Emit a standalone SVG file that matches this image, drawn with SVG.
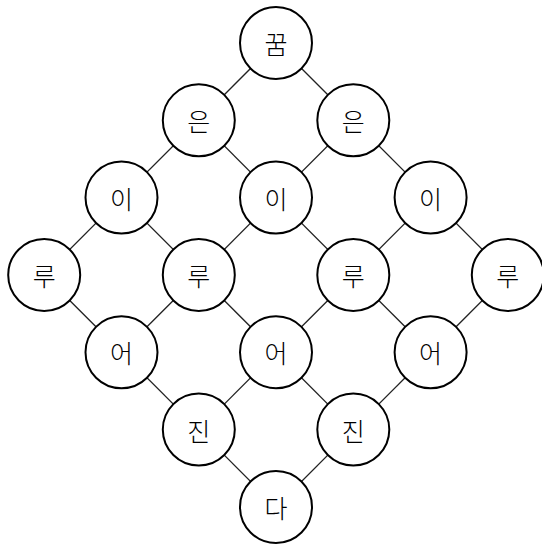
<svg xmlns="http://www.w3.org/2000/svg" width="542" height="545" viewBox="0 0 542 545">
<style>
.n circle{fill:#fff;stroke:#000;stroke-width:2}
.n text{font-family:"Noto Sans CJK KR","Noto Sans",sans-serif;font-size:25px;font-weight:300;text-anchor:middle;dominant-baseline:central;fill:#000}
#edges line{stroke:#222;stroke-width:1.3}
</style>
<rect width="542" height="545" fill="#fff"/>
<g id="edges">
<line x1="276" y1="43" x2="198.8" y2="120.3"/>
<line x1="276" y1="43" x2="353.3" y2="120.3"/>
<line x1="198.8" y1="120.3" x2="121.5" y2="197.6"/>
<line x1="198.8" y1="120.3" x2="276" y2="197.6"/>
<line x1="353.3" y1="120.3" x2="276" y2="197.6"/>
<line x1="353.3" y1="120.3" x2="430.6" y2="197.6"/>
<line x1="121.5" y1="197.6" x2="44.2" y2="275"/>
<line x1="121.5" y1="197.6" x2="198.8" y2="275"/>
<line x1="276" y1="197.6" x2="198.8" y2="275"/>
<line x1="276" y1="197.6" x2="353.3" y2="275"/>
<line x1="430.6" y1="197.6" x2="353.3" y2="275"/>
<line x1="430.6" y1="197.6" x2="507.8" y2="275"/>
<line x1="44.2" y1="275" x2="121.5" y2="352.3"/>
<line x1="198.8" y1="275" x2="121.5" y2="352.3"/>
<line x1="198.8" y1="275" x2="276" y2="352.3"/>
<line x1="353.3" y1="275" x2="276" y2="352.3"/>
<line x1="353.3" y1="275" x2="430.6" y2="352.3"/>
<line x1="507.8" y1="275" x2="430.6" y2="352.3"/>
<line x1="121.5" y1="352.3" x2="198.8" y2="429.6"/>
<line x1="276" y1="352.3" x2="198.8" y2="429.6"/>
<line x1="276" y1="352.3" x2="353.3" y2="429.6"/>
<line x1="430.6" y1="352.3" x2="353.3" y2="429.6"/>
<line x1="198.8" y1="429.6" x2="276" y2="507"/>
<line x1="353.3" y1="429.6" x2="276" y2="507"/>
</g>
<g id="n1" class="n"><circle cx="276" cy="43" r="36"/><text x="276" y="43">꿈</text></g>
<g id="n2" class="n"><circle cx="198.8" cy="120.3" r="36"/><text x="198.8" y="120.3">은</text></g>
<g id="n3" class="n"><circle cx="353.3" cy="120.3" r="36"/><text x="353.3" y="120.3">은</text></g>
<g id="n4" class="n"><circle cx="121.5" cy="197.6" r="36"/><text x="121.5" y="197.6">이</text></g>
<g id="n5" class="n"><circle cx="276" cy="197.6" r="36"/><text x="276" y="197.6">이</text></g>
<g id="n6" class="n"><circle cx="430.6" cy="197.6" r="36"/><text x="430.6" y="197.6">이</text></g>
<g id="n7" class="n"><circle cx="44.2" cy="275" r="36"/><text x="44.2" y="275">루</text></g>
<g id="n8" class="n"><circle cx="198.8" cy="275" r="36"/><text x="198.8" y="275">루</text></g>
<g id="n9" class="n"><circle cx="353.3" cy="275" r="36"/><text x="353.3" y="275">루</text></g>
<g id="n10" class="n"><circle cx="507.8" cy="275" r="36"/><text x="507.8" y="275">루</text></g>
<g id="n11" class="n"><circle cx="121.5" cy="352.3" r="36"/><text x="121.5" y="352.3">어</text></g>
<g id="n12" class="n"><circle cx="276" cy="352.3" r="36"/><text x="276" y="352.3">어</text></g>
<g id="n13" class="n"><circle cx="430.6" cy="352.3" r="36"/><text x="430.6" y="352.3">어</text></g>
<g id="n14" class="n"><circle cx="198.8" cy="429.6" r="36"/><text x="198.8" y="429.6">진</text></g>
<g id="n15" class="n"><circle cx="353.3" cy="429.6" r="36"/><text x="353.3" y="429.6">진</text></g>
<g id="n16" class="n"><circle cx="276" cy="507" r="36"/><text x="276" y="507">다</text></g>
</svg>
